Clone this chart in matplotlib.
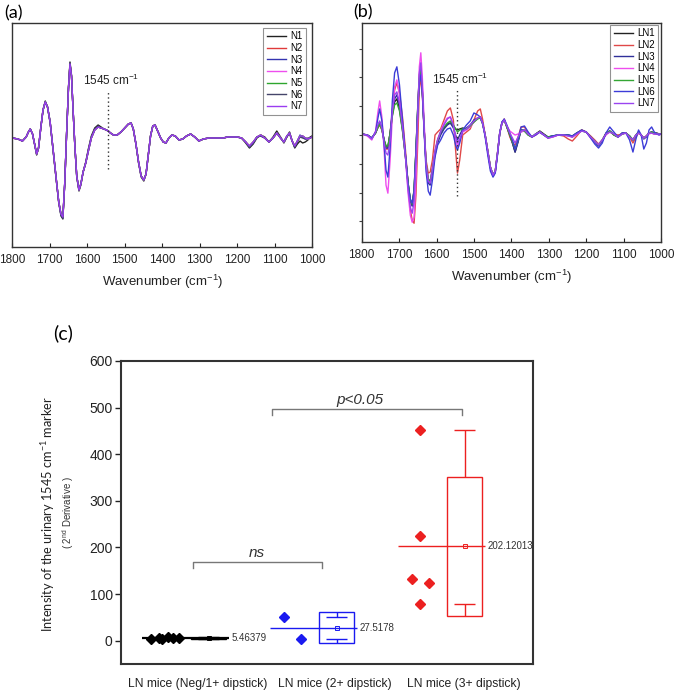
import numpy as np
import matplotlib
matplotlib.use('Agg')
import matplotlib.pyplot as plt

plt.rcParams['font.family'] = ['Liberation Sans', 'DejaVu Sans']
plt.rcParams['mathtext.default'] = 'regular'

# ---------------- data: second-derivative spectra ----------------
WN = [1800, 1785, 1773, 1763, 1757, 1752, 1746, 1740, 1735, 1730,
      1724, 1718, 1712, 1706, 1699, 1691, 1683, 1676, 1670, 1665,
      1660, 1655, 1650, 1646, 1642, 1638, 1633, 1628, 1622, 1617,
      1611, 1604, 1597, 1589, 1580, 1571, 1563, 1555, 1549, 1544,
      1538, 1530, 1520, 1510, 1500, 1490, 1483, 1477, 1470, 1463,
      1456, 1449, 1443, 1437, 1431, 1425, 1419, 1412, 1404, 1397,
      1390, 1382, 1374, 1365, 1355, 1345, 1335, 1324, 1313, 1302,
      1290, 1275, 1260, 1248, 1237, 1225, 1212, 1200, 1188, 1177,
      1167, 1157, 1147, 1137, 1126, 1115, 1104, 1094, 1084, 1075,
      1067, 1060, 1053, 1046, 1039, 1032, 1025, 1018, 1011, 1005,
      1000]

# Panel (a): normal mice N1..N7 (arbitrary units)
N1 = [0, -1, -3, 1, 6, 9, 4, -7, -17, -10,
      10, 28, 37, 31, 15, -13, -41, -65, -78, -81,
      -46, 5, 51, 76, 63, 30, -8, -39, -53, -47,
      -34, -24, -11, 2, 10, 13, 11, 9, 8, 7,
      5, 3, 3, 6, 10, 14, 15, 9, -6, -25,
      -39, -43, -36, -17, 2, 12, 13, 7, 0, -4,
      -5, 0, 3, 2, -2, -1, 2, 4, 1, -3,
      -1, 0, 0, 0, 0, 1, 1, 1, 0, -5,
      -10, -6, 0, 3, 1, -4, 1, 7, 1, -5,
      1, 6, -3, -10, -6, -3, -5, -4, -2, 1,
      2]
N2 = [0, -1, -3, 1, 6, 9, 4, -7, -16, -10,
      10, 28, 36, 31, 16, -12, -40, -64, -76, -79,
      -45, 5, 50, 74, 62, 30, -8, -38, -52, -46,
      -34, -25, -13, 0, 8, 11, 10, 9, 8, 7,
      5, 3, 3, 6, 10, 14, 15, 9, -6, -24,
      -38, -42, -36, -17, 2, 12, 13, 7, 0, -4,
      -5, 0, 3, 2, -2, -1, 2, 4, 1, -3,
      -1, 0, 0, 0, 0, 1, 1, 1, 0, -4,
      -8, -4, 1, 3, 0, -4, 0, 5, 0, -4,
      2, 5, -3, -8, -3, 2, 2, 0, -1, 0,
      1]
N3 = [0, -1, -3, 1, 6, 9, 4, -7, -16, -10,
      10, 28, 36, 31, 16, -12, -40, -64, -77, -80,
      -45, 5, 50, 74, 62, 30, -8, -38, -52, -46,
      -34, -25, -13, 0, 8, 11, 10, 9, 8, 7,
      5, 3, 3, 6, 10, 14, 15, 9, -6, -24,
      -38, -42, -36, -17, 2, 12, 13, 7, 0, -4,
      -5, 0, 3, 2, -2, -1, 2, 4, 1, -3,
      -1, 0, 0, 0, 0, 1, 1, 1, 0, -4,
      -9, -5, 1, 2, 0, -4, 0, 5, 0, -4,
      2, 5, -3, -9, -3, 3, 1, -1, -1, 0,
      1]
N4 = [0, -1, -3, 1, 6, 9, 4, -7, -16, -10,
      10, 28, 36, 31, 16, -12, -40, -64, -76, -79,
      -45, 5, 50, 74, 62, 30, -8, -38, -52, -46,
      -34, -25, -13, 0, 8, 11, 10, 9, 8, 7,
      5, 3, 3, 6, 10, 14, 15, 9, -6, -24,
      -38, -42, -36, -17, 2, 12, 13, 7, 0, -4,
      -5, 0, 3, 2, -2, -1, 2, 4, 1, -3,
      -1, 0, 0, 0, 0, 1, 1, 1, 0, -4,
      -8, -4, 1, 3, 0, -4, 0, 5, 0, -4,
      2, 5, -3, -8, -3, 2, 2, 0, -1, 0,
      1]
N5 = [0, -1, -3, 1, 6, 9, 4, -7, -16, -10,
      10, 28, 36, 31, 16, -12, -40, -64, -76, -79,
      -45, 5, 50, 74, 62, 30, -8, -38, -52, -46,
      -34, -25, -13, 0, 8, 11, 10, 9, 8, 7,
      5, 3, 3, 6, 10, 14, 15, 9, -6, -24,
      -38, -42, -36, -17, 2, 12, 13, 7, 0, -4,
      -5, 0, 3, 2, -2, -1, 2, 4, 1, -3,
      -1, 0, 0, 0, 0, 1, 1, 1, 0, -4,
      -8, -4, 1, 3, 0, -4, 0, 5, 0, -4,
      2, 5, -3, -8, -3, 2, 2, 0, -1, 0,
      1]
N6 = [0, -1, -3, 1, 6, 9, 4, -7, -16, -10,
      10, 28, 36, 31, 16, -12, -40, -64, -77, -80,
      -45, 5, 50, 75, 62, 30, -8, -38, -52, -46,
      -34, -25, -12, 1, 9, 12, 10, 9, 8, 7,
      5, 3, 3, 6, 10, 14, 15, 9, -6, -24,
      -38, -42, -36, -17, 2, 12, 13, 7, 0, -4,
      -5, 0, 3, 2, -2, -1, 2, 4, 1, -3,
      -1, 0, 0, 0, 0, 1, 1, 1, 0, -4,
      -9, -5, 1, 2, 0, -4, 0, 5, 0, -4,
      1, 5, -3, -9, -4, 1, 0, -1, 0, 0,
      1]
N7 = [0, -1, -3, 1, 6, 9, 4, -7, -16, -10,
      10, 28, 36, 31, 16, -12, -40, -64, -76, -79,
      -45, 5, 50, 74, 62, 30, -8, -38, -52, -46,
      -34, -25, -13, 0, 8, 11, 10, 9, 8, 7,
      5, 3, 3, 6, 10, 14, 15, 9, -6, -24,
      -38, -42, -36, -17, 2, 12, 13, 7, 0, -4,
      -5, 0, 3, 2, -2, -1, 2, 4, 1, -3,
      -1, 0, 0, 0, 0, 1, 1, 1, 0, -4,
      -8, -4, 1, 3, 0, -4, 0, 5, 0, -4,
      2, 5, -3, -8, -3, 2, 2, 0, -1, 0,
      1]
N_LABELS = ['N1', 'N2', 'N3', 'N4', 'N5', 'N6', 'N7']
N_COLORS = ['#222222', '#e03a3a', '#3434b0', '#ee4eee', '#2ea62e', '#45456a', '#9a3cf0']

# Panel (b): lupus nephritis mice LN1..LN7
LN1 = [1, 0, -3, 2, 8, 12, 6, -5, -11, -12,
       2, 20, 33, 36, 26, 5, -22, -48, -65, -70,
       -55, -15, 30, 60, 67, 45, 5, -28, -45, -47,
       -35, -18, -6, 2, 7, 11, 12, 9, 6, 5,
       6, 7, 6, 9, 13, 17, 18, 12, 0, -16,
       -32, -40, -36, -18, 2, 12, 15, 8, 0, -8,
       -17, -6, 5, 4, 0, -2, 1, 4, 1, -2,
       -1, 0, 0, 0, -2, 2, 5, 3, -2, -6,
       -10, -5, 2, 4, 0, -2, 2, 2, -1, -5,
       0, 3, 0, -3, -1, 2, 3, 2, 2, 1,
       1]
LN2 = [1, 0, -3, 2, 7, 10, 5, -6, -14, -14,
       2, 25, 45, 52, 42, 18, -15, -50, -75, -85,
       -88, -60, -5, 45, 58, 40, 5, -25, -38, -37,
       -25, 0, 3, 6, 15, 24, 27, 15, -15, -38,
       -25, 0, 3, 6, 15, 24, 26, 16, 0, -16,
       -32, -40, -36, -18, 2, 12, 16, 8, -2, -8,
       -10, -2, 8, 8, 2, -2, 0, 3, 0, -3,
       -2, 0, -1, -4, -6, -1, 5, 3, -1, -5,
       -9, -5, 1, 3, 1, 0, 1, 2, -2, -8,
       -2, 2, 0, -3, -1, 2, 2, 1, 1, 1,
       1]
LN3 = [1, 0, -3, 2, 8, 13, 7, -6, -13, -13,
       2, 22, 36, 40, 30, 8, -20, -48, -66, -71,
       -57, -16, 28, 58, 65, 44, 5, -30, -48, -50,
       -37, -20, -8, 0, 6, 10, 12, 7, 0, -5,
       0, 6, 7, 10, 15, 17, 17, 12, 0, -17,
       -33, -41, -37, -19, 2, 13, 15, 8, 0, -8,
       -17, -7, 5, 5, 1, -2, 1, 3, 0, -2,
       -1, 0, 0, 0, -1, 2, 4, 3, -2, -7,
       -11, -6, 1, 4, 1, -2, 1, 2, -1, -5,
       0, 3, 0, -4, -2, 2, 3, 2, 1, 1,
       1]
LN4 = [1, -1, -5, 4, 22, 34, 18, -15, -50, -58,
       -25, 20, 48, 55, 40, 12, -22, -58, -80, -87,
       -82, -45, 20, 68, 82, 58, 12, -28, -44, -46,
       -32, -15, -4, 4, 12, 17, 18, 10, -3, -12,
       -6, 3, 5, 8, 13, 17, 18, 12, 0, -16,
       -32, -40, -36, -18, 2, 12, 15, 9, 4, 2,
       0, 1, 3, 4, 1, -2, 0, 3, 0, -3,
       -2, 0, 0, -1, -2, 1, 4, 3, -3, -7,
       -9, -5, 0, 3, 1, -2, 1, 2, -2, -4,
       0, 2, 0, -3, -1, 1, 2, 1, 1, 0,
       1]
LN5 = [1, 0, -3, 2, 7, 11, 5, -5, -11, -11,
       2, 19, 30, 32, 24, 4, -22, -48, -64, -69,
       -54, -15, 28, 56, 64, 44, 5, -28, -44, -46,
       -34, -17, -5, 3, 8, 12, 14, 10, 6, 3,
       5, 6, 6, 9, 13, 16, 17, 11, 0, -16,
       -32, -40, -36, -18, 2, 12, 15, 8, 0, -7,
       -14, -5, 5, 4, 0, -2, 1, 3, 0, -2,
       -1, 0, 0, 0, -1, 2, 4, 3, -2, -6,
       -10, -5, 1, 4, 0, -2, 1, 2, -1, -5,
       0, 3, 0, -3, -1, 2, 3, 2, 1, 1,
       1]
LN6 = [1, 0, -3, 3, 16, 26, 14, -10, -35, -42,
       -12, 35, 62, 68, 50, 15, -20, -50, -64, -68,
       -56, -18, 25, 52, 60, 42, 2, -36, -56, -60,
       -45, -22, -10, -5, 2, 6, 7, 0, -10, -15,
       -8, 5, 10, 14, 22, 20, 18, 12, -2, -20,
       -36, -42, -38, -20, 2, 13, 16, 10, 2, -5,
       -14, -5, 8, 9, 3, -2, 0, 3, 0, -3,
       -1, 0, 0, 0, -1, 2, 5, 3, -3, -9,
       -13, -8, 2, 8, 3, -2, 2, 2, -5, -17,
       -4, 5, 0, -14, -8, 5, 8, 3, 1, 0,
       1]
LN7 = [1, 0, -4, 3, 10, 14, 7, -8, -18, -20,
       -5, 24, 40, 43, 32, 8, -22, -55, -72, -78,
       -66, -25, 25, 62, 72, 48, 6, -30, -46, -48,
       -35, -16, -5, 3, 10, 16, 18, 10, -2, -8,
       -4, 4, 6, 10, 14, 17, 18, 12, 0, -16,
       -32, -40, -36, -18, 2, 12, 15, 9, 2, -3,
       -8, -2, 4, 5, 1, -2, 1, 3, 0, -3,
       -2, 0, 0, -1, -2, 1, 4, 3, -2, -6,
       -10, -5, 1, 3, 1, -2, 1, 2, -2, -5,
       0, 2, 0, -3, -1, 2, 2, 1, 1, 1,
       1]
LN_LABELS = ['LN1', 'LN2', 'LN3', 'LN4', 'LN5', 'LN6', 'LN7']
LN_COLORS = ['#222222', '#e04848', '#30309a', '#ee4eee', '#34a634', '#3c3cd8', '#9a44f0']

XTICKS = [1800, 1700, 1600, 1500, 1400, 1300, 1200, 1100, 1000]

# ---------------- data: panel (c) ----------------
GROUP_LABELS = ['LN mice (Neg/1+ dipstick)', 'LN mice (2+ dipstick)', 'LN mice (3+ dipstick)']
G1 = [4.6, 6.2, 3.9, 7.1, 5.3, 5.7]
G2 = [51.0, 4.04]
G3 = [452, 224, 133, 124, 78]
JIT1 = [-0.45, -0.39, -0.36, -0.32, -0.28, -0.23]
JIT2 = [-0.41, -0.28]
JIT3 = [-0.35, -0.35, -0.41, -0.28, -0.35]
MEAN_LABELS = ['5.46379', '27.5178', '202.12013']
GROUP_COLORS = ['#000000', '#1a1af0', '#ec2020']
C_YTICKS = [0, 100, 200, 300, 400, 500, 600]

# ---------------- figure ----------------
W, H = 675, 693
fig = plt.figure(figsize=(W / 100, H / 100), dpi=100)


def rect(x0, y0, x1, y1):
    return [x0 / W, 1 - y1 / H, (x1 - x0) / W, (y1 - y0) / H]


def spectra(ax, series, labels, colors, ylim, note_xy, vline_span, yticks, leg_anchor):
    for vals, lab, col in zip(series, labels, colors):
        ax.plot(WN, vals, color=col, lw=1.0, label=lab)
    ax.set_xlim(1800, 1000)
    ax.set_ylim(*ylim)
    ax.set_xticks(XTICKS)
    ax.tick_params(axis='x', direction='in', length=3, labelsize=8.5, pad=5,
                   colors='#222222', width=0.8)
    ax.set_yticks(yticks)
    ax.set_yticklabels([])
    ax.tick_params(axis='y', direction='out', length=2.5, width=0.8, colors='#444444')
    for s in ax.spines.values():
        s.set_color('#333333')
        s.set_linewidth(1.0)
    ax.set_xlabel('Wavenumber (cm$^{-1}$)', fontsize=9.5, labelpad=5, color='#222222')
    ax.vlines(1545, vline_span[0], vline_span[1], colors='#333333',
              linestyles=(0, (1, 2)), lw=1.0)
    ax.text(note_xy[0], note_xy[1], '1545 cm$^{-1}$', ha='center', va='center',
            fontsize=8.5, color='#222222')
    leg = ax.legend(loc='upper right', bbox_to_anchor=leg_anchor, borderaxespad=0,
                    fontsize=7, frameon=True, fancybox=False, edgecolor='#777777',
                    handlelength=2.0, labelspacing=0.17, borderpad=0.35,
                    handletextpad=0.4)
    leg.get_frame().set_linewidth(0.8)


axA = fig.add_axes(rect(12.3, 23, 312, 247))
spectra(axA, [N1, N2, N3, N4, N5, N6, N7], N_LABELS, N_COLORS,
        (-109, 115), (1535, 58), (-31, 48), [], (0.98, 0.978))

axB = fig.add_axes(rect(361.7, 22.7, 661, 242.3))
spectra(axB, [LN1, LN2, LN3, LN4, LN5, LN6, LN7], LN_LABELS, LN_COLORS,
        (-107, 112), (1537, 55), (-61, 46),
        [-86, -57.4, -28.7, 0, 28.7, 57.4, 86], (0.99, 0.99))

fig.text(4 / W, 1 - 13 / H, '(a)', fontsize=13, ha='left', va='center',
         family=['Lato', 'DejaVu Sans'])
fig.text(353 / W, 1 - 12 / H, '(b)', fontsize=13, ha='left', va='center',
         family=['Lato', 'DejaVu Sans'])
fig.text(53 / W, 1 - 333 / H, '(c)', fontsize=14, ha='left', va='center',
         family=['Lato', 'DejaVu Sans'])

# ---------------- panel (c) ----------------
axC = fig.add_axes(rect(121, 361, 533, 664))
groups = [G1, G2, G3]
jits = [JIT1, JIT2, JIT3]
box_w = 0.27
cap_w = 0.085
for i, (vals, jit, col, mlab) in enumerate(zip(groups, jits, GROUP_COLORS, MEAN_LABELS)):
    xc = i + 1
    v = np.array(vals, dtype=float)
    m = v.mean()
    sd = v.std(ddof=1)
    # raw points
    axC.plot(xc + np.array(jit), v, 'D', color=col, ms=5, mec=col, zorder=4)
    # box: mean +/- SD
    axC.bar(xc, 2 * sd, bottom=m - sd, width=box_w, fill=False, edgecolor=col,
            lw=1.0, zorder=3)
    # whiskers to max / min
    axC.vlines(xc, m + sd, v.max(), colors=col, lw=1.0, zorder=3)
    axC.vlines(xc, m - sd, v.min(), colors=col, lw=1.0, zorder=3)
    axC.hlines([v.max(), v.min()], xc - cap_w, xc + cap_w, colors=col, lw=1.0, zorder=3)
    # mean line and marker
    axC.hlines(m, xc - 0.52, xc + 0.16, colors=col, lw=1.6 if i == 0 else 1.0, zorder=3)
    axC.plot(xc, m, 's', mfc='none', mec=col, ms=3, mew=0.7, zorder=5)
    axC.text(xc + 0.18, m, mlab, ha='left', va='center', fontsize=7, color='#333333')

axC.set_xlim(0.316, 3.535)
axC.set_ylim(-50, 600)
axC.set_yticks(C_YTICKS)
axC.tick_params(axis='y', direction='out', length=4, width=1.0, labelsize=10,
                colors='#222222', pad=2)
axC.set_xticks([0.918, 1.99, 2.995])
axC.set_xticklabels(GROUP_LABELS)
axC.tick_params(axis='x', length=0, labelsize=8.7, pad=10, colors='#222222')
for s in axC.spines.values():
    s.set_color('#333333')
    s.set_linewidth(1.5)

# significance brackets
bc = '#777777'
axC.plot([0.877, 0.877, 1.884, 1.884], [156, 169, 169, 156], color=bc, lw=1.0)
axC.text(1.38, 188, 'ns', ha='center', va='center', fontsize=11, style='italic',
         color='#333333')
axC.plot([1.498, 1.498, 2.98, 2.98], [485, 496, 496, 485], color=bc, lw=1.0)
axC.text(2.18, 516, 'p<0.05', ha='center', va='center', fontsize=11, style='italic',
         color='#333333')

# y-axis label (two lines)
fig.text(48 / W, 1 - 514 / H, 'Intensity of the urinary 1545 cm$^{-1}$ marker',
         rotation=90, ha='center', va='center', fontsize=9.2,
         family=['Lato', 'DejaVu Sans'], color='#222222')
fig.text(68 / W, 1 - 513 / H, '( 2$^{nd}$ Derivative )', rotation=90,
         ha='center', va='center', fontsize=7, color='#333333')

fig.savefig('out.png', dpi=100)
